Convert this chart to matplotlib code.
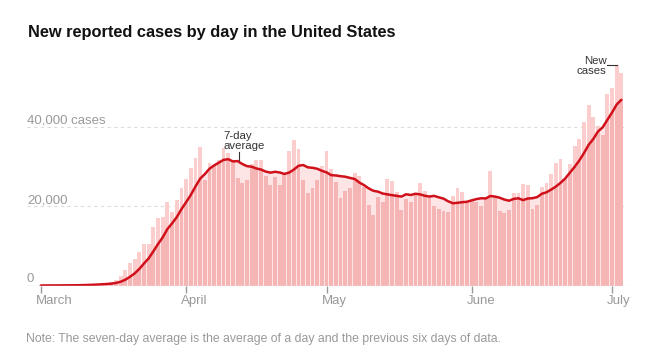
import pandas as pd
import matplotlib.pyplot as plt
import matplotlib.dates as mdates
from matplotlib.transforms import ScaledTranslation

plt.rcParams['font.family'] = ['Liberation Sans', 'DejaVu Sans']

# Tageswerte 1. Maerz - 3. Juli 2020
dates = pd.date_range('2020-03-01', '2020-07-03', freq='D')

new_cases = [
    10, 20, 25, 30, 60, 80, 110, 100, 120, 200,
    290, 400, 450, 550, 600, 800, 1400, 2400, 4000, 5600,
    6600, 8500, 10500, 10500, 14700, 17000, 17400, 21200, 18600, 21500,
    24600, 27000, 29800, 32300, 35100, 26700, 31000, 30500, 31800, 34700,
    33500, 31200, 27200, 25900, 26700, 30800, 31600, 31600, 27600, 25300,
    27400, 25500, 28300, 33900, 36800, 34400, 26700, 23300, 24700, 26600,
    30300, 34000, 29500, 26100, 22000, 23800, 24500, 28500, 27700, 24900,
    20300, 17700, 22300, 21200, 27000, 26300, 23700, 19000, 21800, 21000,
    23400, 25900, 23800, 22400, 20100, 19200, 18800, 18600, 22500, 24600,
    23500, 20800, 21700, 21000, 20100, 22200, 28900, 22500, 18800, 18400,
    19000, 23300, 23300, 25600, 25400, 19300, 20400, 24900, 25900, 28100,
    30900, 32000, 27000, 30600, 35200, 37100, 41200, 45500, 42500, 40200,
    37900, 48400, 50000, 55600, 53700,
]

avg_7day = [
    10, 15, 18, 21, 29, 38, 48, 61, 75, 100,
    137, 186, 239, 301, 373, 470, 641, 943, 1457, 2193,
    3057, 4186, 5571, 6871, 8629, 10486, 12171, 14257, 15700, 17271,
    19286, 21043, 22871, 25000, 26986, 28143, 29500, 30343, 31029, 31729,
    31900, 31343, 31414, 30686, 30143, 30000, 29557, 29286, 28771, 28500,
    28714, 28543, 28186, 28514, 29257, 30229, 30429, 29843, 29729, 29486,
    28971, 28571, 27871, 27786, 27600, 27471, 27171, 26914, 26014, 25357,
    24529, 23914, 23700, 23229, 23014, 22814, 22643, 22457, 23043, 22857,
    23171, 23014, 22657, 22471, 22629, 22257, 21943, 21257, 20771, 20886,
    21043, 21143, 21500, 21814, 22029, 21986, 22600, 22457, 22171, 21700,
    21414, 21871, 22029, 21557, 21971, 22043, 22329, 23171, 23543, 24229,
    24986, 25929, 27029, 28486, 29957, 31557, 33429, 35514, 37014, 38900,
    39943, 41829, 43671, 45729, 46900,
]

grid_values = [20000, 40000]
grid_labels = ['20,000', '40,000 cases']

df = pd.DataFrame({'date': dates, 'cases': new_cases, 'avg': avg_7day})
df['below'] = df[['cases', 'avg']].min(axis=1)

fig = plt.figure(figsize=(6.53, 3.59), dpi=100)
ax = fig.add_axes([27 / 653, 73.5 / 359, 600 / 653, 225.7 / 359])

# Flaeche unter dem Durchschnitt, Balken, Balkenanteil unter der Linie
ax.fill_between(df['date'], 0, df['avg'], color='#fde5e5', lw=0, zorder=1)
ax.bar(df['date'], df['cases'], width=0.82, color='#fbcdcd', lw=0, zorder=2)
ax.bar(df['date'], df['below'], width=0.82, color='#f6b5b5', lw=0, zorder=3)
ax.plot(df['date'], df['avg'], color='#d0111b', lw=1.8, zorder=4,
        solid_capstyle='round')

left = dates[0] - pd.Timedelta(days=3)
ax.set_xlim(left, dates[-1] + pd.Timedelta(days=1.2))
ax.set_ylim(0, 57000)

for v in grid_values:
    ax.axhline(v, color='#dddddd', lw=0.8, dashes=(3, 3), zorder=0)
ax.axhline(0, color='#dddddd', lw=1, zorder=5)

for v, lab in zip([0] + grid_values, ['0'] + grid_labels):
    ax.text(left, v + 800, lab, color='#999999', fontsize=9.5,
            ha='left', va='baseline')

for s in ax.spines.values():
    s.set_visible(False)
ax.set_yticks([])
ax.xaxis.set_major_locator(mdates.MonthLocator())
ax.xaxis.set_major_formatter(mdates.DateFormatter('%B'))
ax.tick_params(axis='x', length=5, width=1, color='#999999',
               labelcolor='#999999', labelsize=9.5, pad=2)
offset = ScaledTranslation(-0.05, 0, fig.dpi_scale_trans)
for lab in ax.get_xticklabels():
    lab.set_ha('left')
    lab.set_transform(lab.get_transform() + offset)

# Beschriftungen
i_avg = 42
ax.text(dates[0] + pd.Timedelta(days=39), 33900, '7-day\naverage',
        fontsize=8.2, color='#333333', ha='left', va='bottom', linespacing=1.0)
ax.plot([dates[0] + pd.Timedelta(days=42.4)] * 2, [avg_7day[i_avg] + 400, 33800],
        color='#333333', lw=0.8, zorder=6)

i_max = 123
ax.text(dates[0] + pd.Timedelta(days=120.8), new_cases[i_max] - 200, 'New\ncases',
        fontsize=8.2, color='#333333', ha='right', va='center', linespacing=1.05)
ax.plot([dates[0] + pd.Timedelta(days=120.9), dates[i_max]],
        [new_cases[i_max]] * 2, color='#333333', lw=0.8, zorder=6)

fig.text(28 / 653, 1 - 32 / 359, 'New reported cases by day in the United States',
         fontsize=11.8, fontweight='bold', color='#121212', ha='left', va='center')
fig.text(26 / 653, 1 - 339 / 359,
         'Note: The seven-day average is the average of a day and the previous six days of data.',
         fontsize=8.8, color='#999999', ha='left', va='center')

fig.savefig('out.png', dpi=100)
